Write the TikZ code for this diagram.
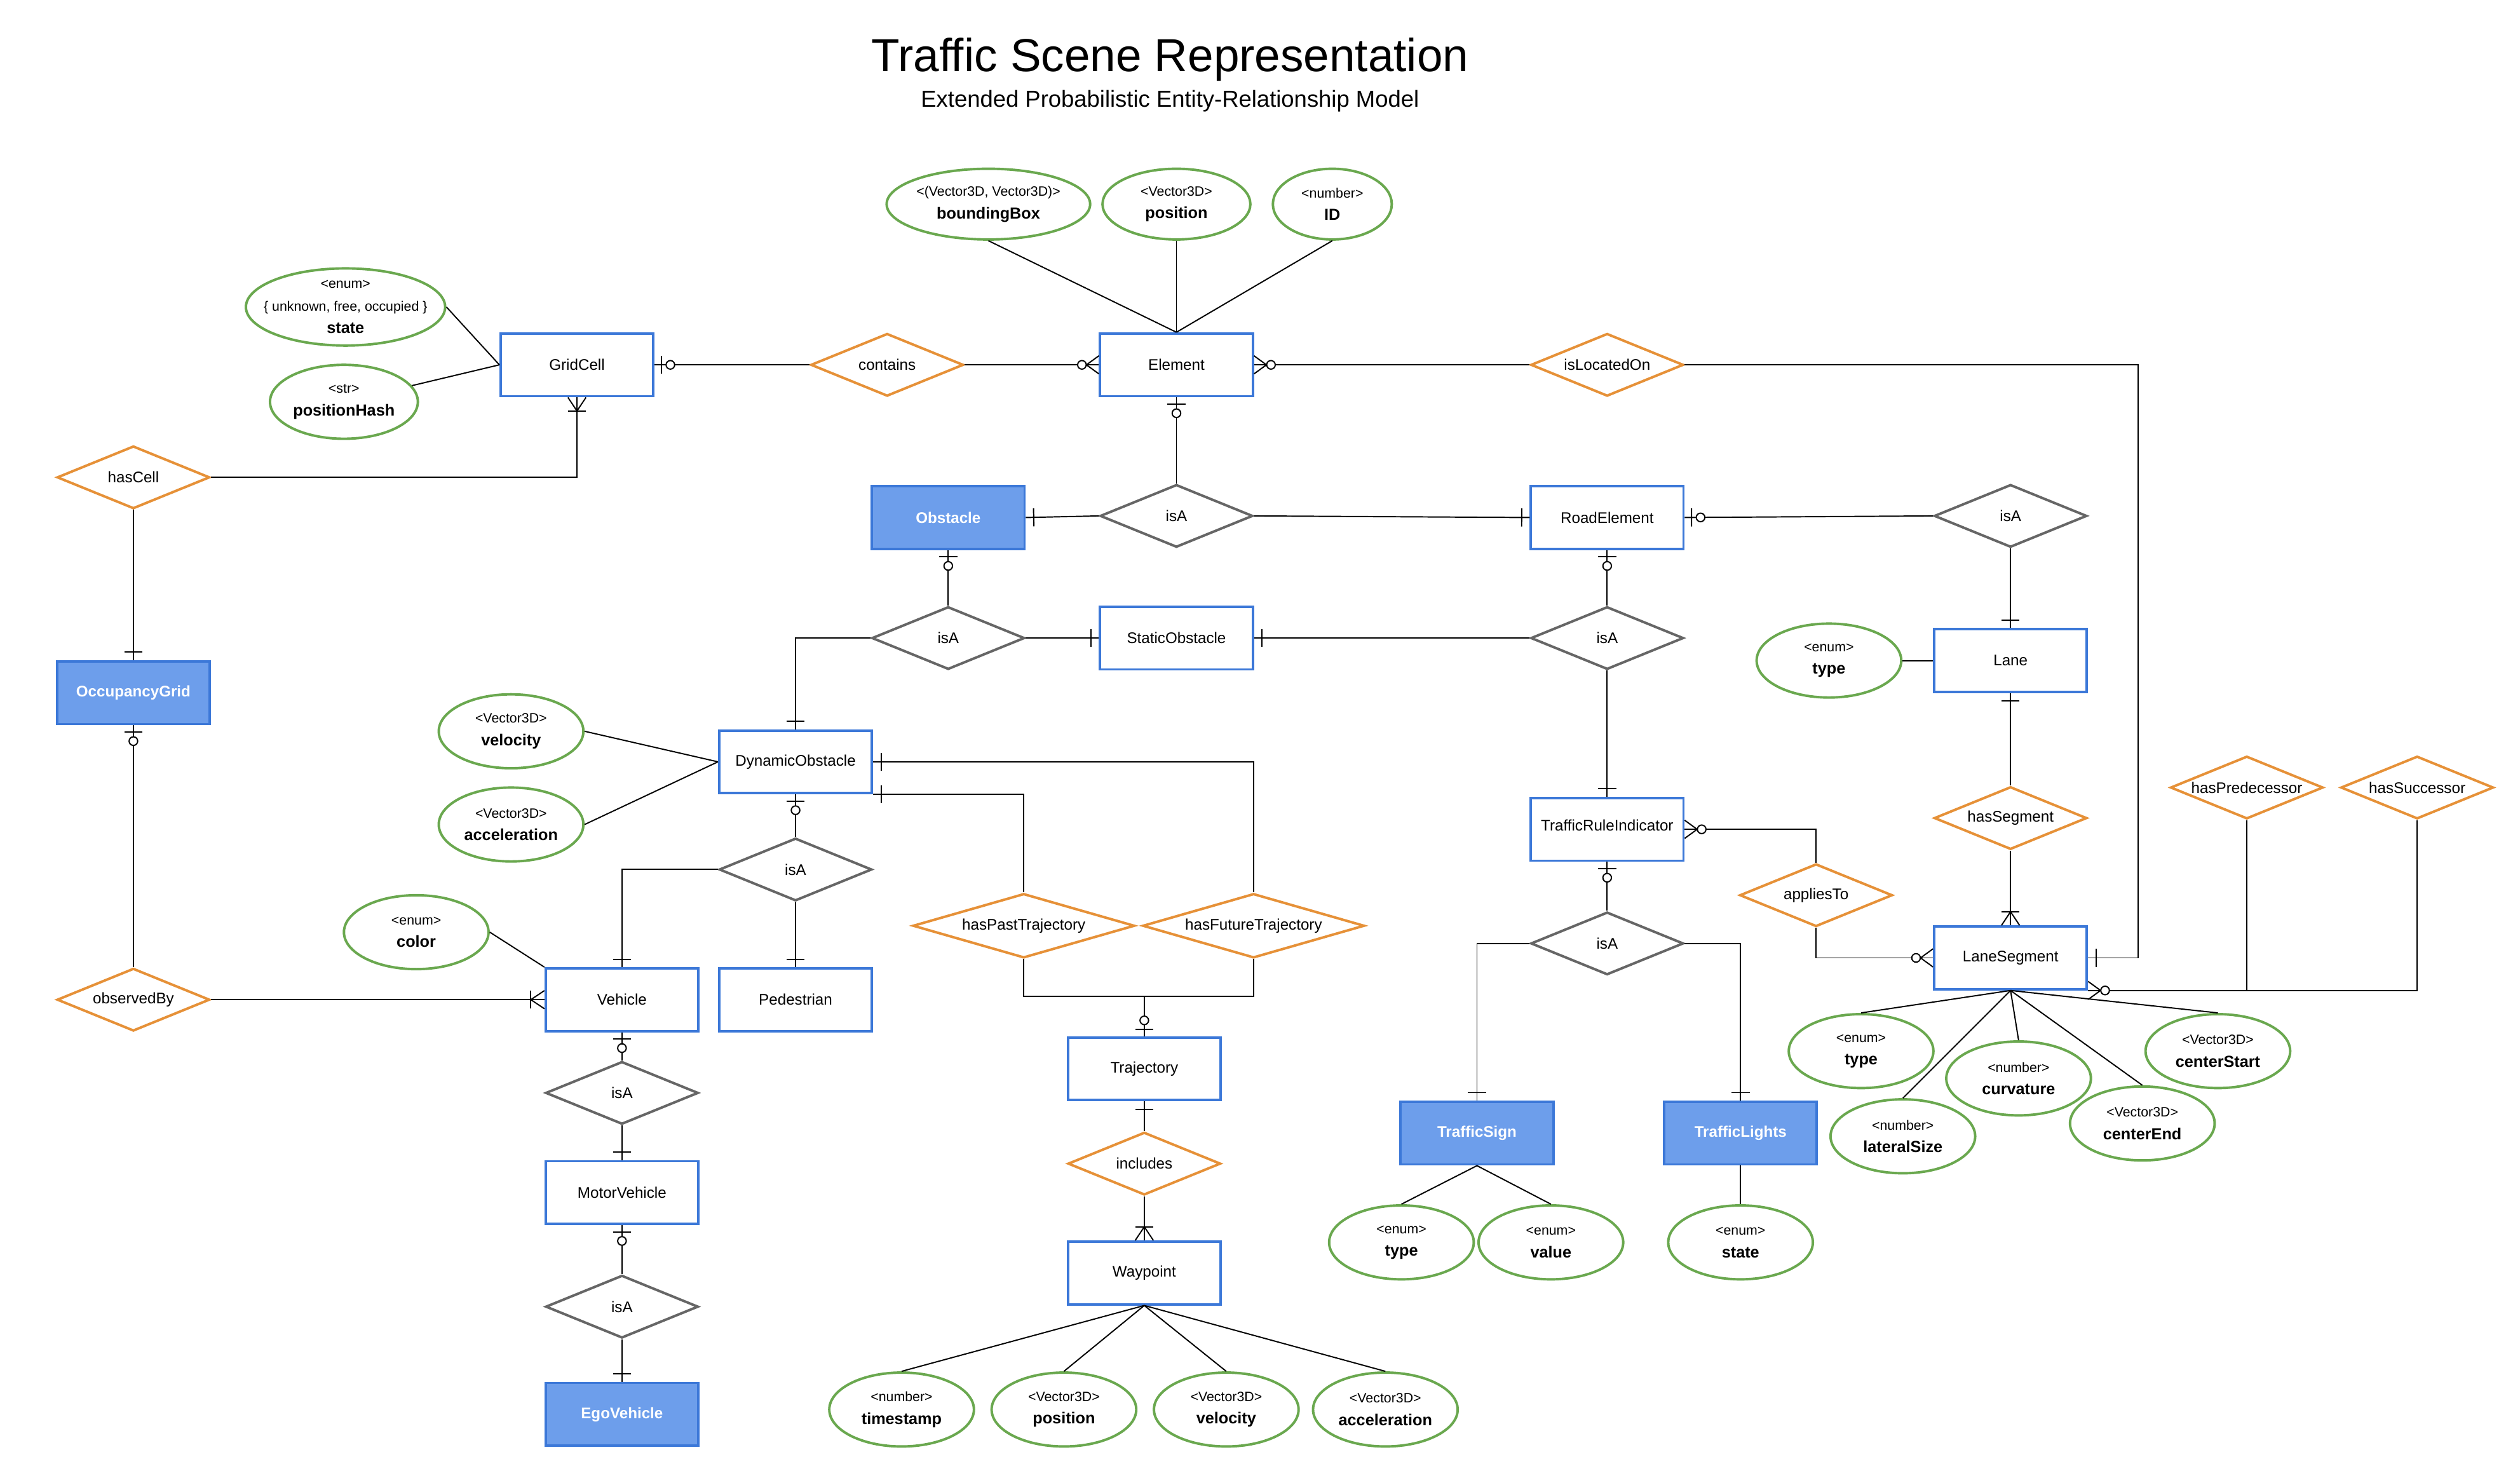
\documentclass[tikz,border=0pt]{standalone}
\usepackage{fontspec}
\setmainfont{Liberation Sans}
\usepackage{tikz}
\usetikzlibrary{shapes.geometric,decorations.markings,calc}
\definecolor{sceneBlue}{RGB}{60,120,216}
\definecolor{sceneLightBlue}{RGB}{109,158,235}
\definecolor{sceneOrange}{RGB}{230,145,56}
\definecolor{sceneGray}{RGB}{102,102,102}
\definecolor{sceneGreen}{RGB}{106,168,79}
\newcommand{\boxfont}{\fontsize{13.6}{16}\selectfont}
\newcommand{\typefont}{\fontsize{12}{20}\selectfont}
\newcommand{\attr}[2]{<#1>\\{\fontsize{14.2}{20}\selectfont\bfseries #2}}

\begin{document}
\begin{tikzpicture}[
  x=0.05cm, y=-0.05cm,
  entity/.style={
    draw=sceneBlue,
    line width=2.2pt,
    fill=white,
    minimum width=4.75cm,
    minimum height=1.95cm,
    inner sep=0pt,
    font=\boxfont
  },
  keyentity/.style={entity,fill=sceneLightBlue,text=white,font=\boxfont\bfseries},
  relation/.style={
    diamond,
    draw=sceneOrange,
    line width=2.2pt,
    fill=white,
    shape aspect=2.4,
    minimum width=4.75cm,
    minimum height=1.95cm,
    inner sep=0pt,
    font=\boxfont
  },
  longrelation/.style={relation,shape aspect=3.45,minimum width=6.9cm,minimum height=2cm},
  isa/.style={relation,draw=sceneGray},
  attribute/.style={
    ellipse,
    draw=sceneGreen,
    line width=2.2pt,
    fill=white,
    minimum width=4.5cm,
    minimum height=2.3cm,
    inner sep=0pt,
    align=center,
    font=\typefont
  },
  link/.style={line width=1.1pt,black},
  cardmark/.style={postaction={decorate,decoration={markings,mark=at position 1 with {#1}}}},
  toone/.style={cardmark={\draw[link] (-7pt,-8pt) -- (-7pt,8pt);}},
  tozeroone/.style={cardmark={\draw[link] (-6pt,-8pt) -- (-6pt,8pt);
    \draw[link,fill=white] (-14pt,0) circle (3.8pt);}},
  toonemany/.style={cardmark={\draw[link] (0,-8pt) -- (-12pt,0) -- (0,8pt);
    \draw[link] (-12pt,-8pt) -- (-12pt,8pt);}},
  tozeromany/.style={cardmark={\draw[link] (0,-8pt) -- (-11pt,0) -- (0,8pt);
    \draw[link,fill=white] (-15pt,0) circle (3.8pt);}}
]
  \useasboundingbox (0,0) rectangle (1568,915);

  \node[font=\fontsize{41}{48}\selectfont] (title) at (728,37) {Traffic Scene Representation};
  \node[font=\fontsize{20.5}{24}\selectfont] (subtitle) at (728,63)
    {Extended Probabilistic Entity-Relationship Model};

  % entities
  \node[entity] (gridCell) at (359,227) {GridCell};
  \node[entity] (element) at (732,227) {Element};
  \node[keyentity] (obstacle) at (590,322) {Obstacle};
  \node[entity] (roadEl) at (1000,322) {RoadElement};
  \node[entity] (staticObs) at (732,397) {StaticObstacle};
  \node[keyentity] (occGrid) at (83,431) {OccupancyGrid};
  \node[entity] (dynObs) at (495,474) {DynamicObstacle};
  \node[entity] (lane) at (1251,411) {Lane};
  \node[entity] (tri) at (1000,516) {\raisebox{0.25cm}{TrafficRuleIndicator}};
  \node[entity] (laneSeg) at (1251,596) {LaneSegment};
  \node[entity] (vehicle) at (387,622) {Vehicle};
  \node[entity] (pedestrian) at (495,622) {Pedestrian};
  \node[entity] (traj) at (712,665) {Trajectory};
  \node[entity] (motor) at (387,742) {MotorVehicle};
  \node[entity] (waypoint) at (712,792) {Waypoint};
  \node[keyentity] (sign) at (919,705) {TrafficSign};
  \node[keyentity] (lights) at (1083,705) {TrafficLights};
  \node[keyentity] (ego) at (387,880) {EgoVehicle};

  % relationships
  \node[relation] (contains) at (552,227) {contains};
  \node[relation] (isLoc) at (1000,227) {isLocatedOn};
  \node[relation] (hasCell) at (83,297) {hasCell};
  \node[relation] (observedBy) at (83,622) {observedBy};
  \node[isa] (isaTop) at (732,321) {isA};
  \node[isa] (isaLane) at (1251,321) {isA};
  \node[isa] (isaObst) at (590,397) {isA};
  \node[isa] (isaRoad) at (1000,397) {isA};
  \node[isa] (isaDyn) at (495,541) {isA};
  \node[isa] (isaVeh) at (387,680) {isA};
  \node[isa] (isaMotor) at (387,813) {isA};
  \node[isa] (isaTri) at (1000,587) {isA};
  \node[longrelation] (hasPast) at (637,576) {hasPastTrajectory};
  \node[longrelation] (hasFuture) at (780,576) {hasFutureTrajectory};
  \node[relation] (includes) at (712,724) {includes};
  \node[relation] (hasSeg) at (1251,509) {hasSegment};
  \node[relation] (appliesTo) at (1130,557) {appliesTo};
  \node[relation] (hasPred) at (1398,490) {hasPredecessor};
  \node[relation] (hasSucc) at (1504,490) {hasSuccessor};

  % attributes
  \node[attribute,minimum width=6.2cm,minimum height=2.4cm,inner xsep=-0.8cm,inner ysep=-0.2cm]
    (cellState) at (215,191) {<enum>\\\{ unknown, free, occupied \}\\{\fontsize{14.2}{20}\selectfont\bfseries state}};
  \node[attribute,minimum width=4.6cm] (cellHash) at (214,250) {\attr{str}{positionHash}};
  \node[attribute,minimum width=6.2cm,minimum height=2.2cm] (elBox) at (615,127)
    {\attr{(Vector3D, Vector3D)}{boundingBox}};
  \node[attribute,minimum width=4.6cm,minimum height=2.2cm] (elPos) at (732,127) {\attr{Vector3D}{position}};
  \node[attribute,minimum width=3.7cm,minimum height=2.2cm] (elId) at (829,127) {\attr{number}{ID}};
  \node[attribute] (dynVel) at (318,455) {\attr{Vector3D}{velocity}};
  \node[attribute] (dynAcc) at (318,513) {\attr{Vector3D}{acceleration}};
  \node[attribute] (vehColor) at (259,580) {\attr{enum}{color}};
  \node[attribute] (laneType) at (1138,411) {\attr{enum}{type}};
  \node[attribute] (segType) at (1158,654) {\attr{enum}{type}};
  \node[attribute] (segCurv) at (1256,671) {\attr{number}{curvature}};
  \node[attribute] (segStart) at (1380,654) {\attr{Vector3D}{centerStart}};
  \node[attribute] (segLat) at (1184,707) {\attr{number}{lateralSize}};
  \node[attribute] (segEnd) at (1333,699) {\attr{Vector3D}{centerEnd}};
  \node[attribute] (signType) at (872,773) {\attr{enum}{type}};
  \node[attribute] (signValue) at (965,773) {\attr{enum}{value}};
  \node[attribute] (lightState) at (1083,773) {\attr{enum}{state}};
  \node[attribute] (wpTime) at (561,877) {\attr{number}{timestamp}};
  \node[attribute] (wpPos) at (662,877) {\attr{Vector3D}{position}};
  \node[attribute] (wpVel) at (763,877) {\attr{Vector3D}{velocity}};
  \node[attribute] (wpAcc) at (862,877) {\attr{Vector3D}{acceleration}};

  % attribute links
  \draw[link] (cellState.east) -- (gridCell.west);
  \draw[link] (cellHash) -- (gridCell.west);
  \foreach \a in {elBox,elPos,elId}
    \draw[link] (\a.south) -- (element.north);
  \draw[link] (dynVel.east) -- (dynObs.west);
  \draw[link] (dynAcc.east) -- (dynObs.west);
  \draw[link] (vehColor.east) -- (vehicle.north west);
  \draw[link] (laneType.east) -- (lane.west);
  \foreach \a in {segType,segCurv,segStart,segLat,segEnd}
    \draw[link] (laneSeg.south) -- (\a.north);
  \foreach \a in {signType,signValue}
    \draw[link] (sign.south) -- (\a.north);
  \draw[link] (lights.south) -- (lightState.north);
  \foreach \a in {wpTime,wpPos,wpVel,wpAcc}
    \draw[link] (waypoint.south) -- (\a.north);

  % relationship links
  \draw[link,tozeroone] (contains.west) -- (gridCell.east);
  \draw[link,tozeromany] (contains.east) -- (element.west);
  \draw[link,tozeromany] (isLoc.west) -- (element.east);
  \draw[link,toone] (isLoc.east) -| ($(laneSeg.east)+(31,0)$) -- (laneSeg.east);
  \draw[link,toonemany] (hasCell.east) -| (gridCell.south);
  \draw[link,toone] (hasCell.south) -- (occGrid.north);
  \draw[link,tozeroone] (observedBy.north) -- (occGrid.south);
  \draw[link,toonemany] (observedBy.east) -- (vehicle.west);

  \draw[link,tozeroone] (isaTop.north) -- (element.south);
  \draw[link,toone] (isaTop.west) -- (obstacle.east);
  \draw[link,toone] (isaTop.east) -- (roadEl.west);
  \draw[link,tozeroone] (isaLane.west) -- (roadEl.east);
  \draw[link,toone] (isaLane.south) -- (lane.north);
  \draw[link,tozeroone] (isaObst.north) -- (obstacle.south);
  \draw[link,toone] (isaObst.west) -| (dynObs.north);
  \draw[link,toone] (isaObst.east) -- (staticObs.west);
  \draw[link,tozeroone] (isaRoad.north) -- (roadEl.south);
  \draw[link,toone] (isaRoad.west) -- (staticObs.east);
  \draw[link,toone] (isaRoad.south) -- (tri.north);

  \draw[link,toone] (hasSeg.north) -- (lane.south);
  \draw[link,toonemany] (hasSeg.south) -- (laneSeg.north);
  \draw[link,tozeromany] (appliesTo.north) |- (tri.east);
  \draw[link,tozeromany] (appliesTo.south) |- (laneSeg.west);
  \draw[link] (hasPred.south) -- (hasPred.south |- laneSeg.south);
  \draw[link,tozeromany] (hasSucc.south) |- (laneSeg.south east);
  \draw[link,tozeroone] (isaTri.north) -- (tri.south);
  \draw[link,toone] (isaTri.west) -| (sign.north);
  \draw[link,toone] (isaTri.east) -| (lights.north);

  \draw[link,tozeroone] (isaDyn.north) -- (dynObs.south);
  \draw[link,toone] (isaDyn.west) -| (vehicle.north);
  \draw[link,toone] (isaDyn.south) -- (pedestrian.north);
  \draw[link,toone] (hasPast.north) |- (dynObs.south east);
  \draw[link,toone] (hasFuture.north) |- (dynObs.east);
  \coordinate (trajJoin) at (712,620);
  \draw[link] (hasPast.south) |- (trajJoin) -| (hasFuture.south);
  \draw[link,tozeroone] (trajJoin) -- (traj.north);
  \draw[link,toone] (includes.north) -- (traj.south);
  \draw[link,toonemany] (includes.south) -- (waypoint.north);
  \draw[link,tozeroone] (isaVeh.north) -- (vehicle.south);
  \draw[link,toone] (isaVeh.south) -- (motor.north);
  \draw[link,tozeroone] (isaMotor.north) -- (motor.south);
  \draw[link,toone] (isaMotor.south) -- (ego.north);
\end{tikzpicture}
\end{document}
